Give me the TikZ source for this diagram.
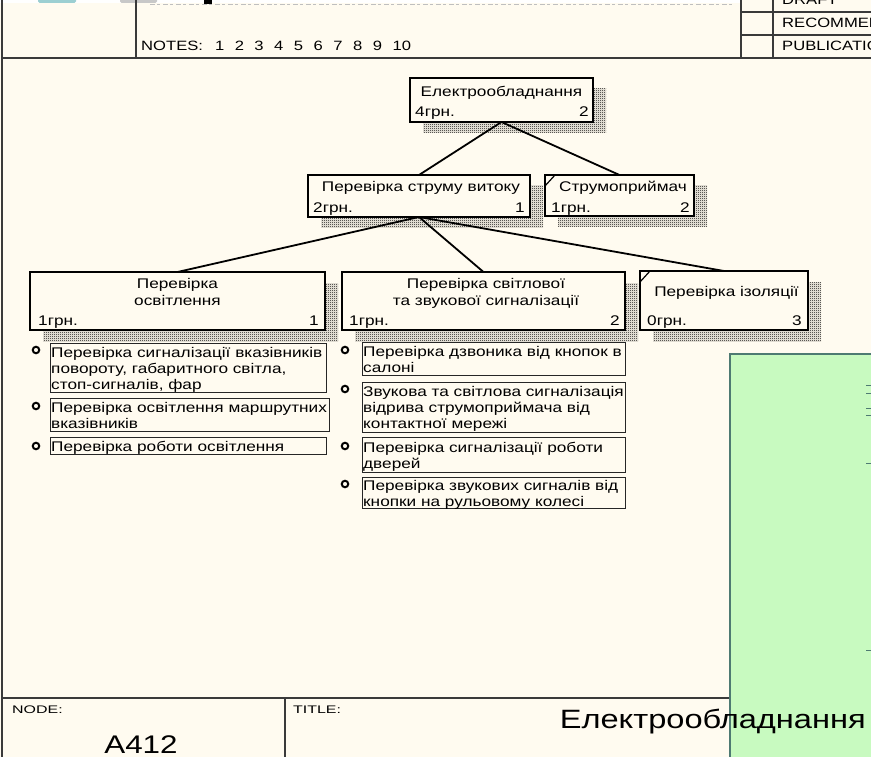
\documentclass[tikz,border=0pt]{standalone}
\usepackage{fontspec}
\setmainfont{Liberation Sans}
\newfontfamily\dfont[FakeStretch=1.23]{Liberation Sans}
\newfontfamily\sfont[FakeStretch=1.45]{Liberation Sans}
\usetikzlibrary{patterns}
\definecolor{cream}{HTML}{FFFBF0}
\definecolor{lgreen}{HTML}{C8FAC0}
\definecolor{gborder}{HTML}{4E7A72}
\definecolor{framec}{HTML}{3A3A3A}
\definecolor{iconteal}{HTML}{9CCFD2}
\definecolor{icongrey}{HTML}{C8C8C8}
\pgfdeclarepatternformonly{chk}{\pgfpointorigin}{\pgfqpoint{2pt}{2pt}}{\pgfqpoint{2pt}{2pt}}{%
  \pgfpathrectangle{\pgfpointorigin}{\pgfqpoint{1pt}{1pt}}%
  \pgfpathrectangle{\pgfqpoint{1pt}{1pt}}{\pgfqpoint{1pt}{1pt}}%
  \pgfusepath{fill}}
\pgfdeclarelayer{back}
\pgfdeclarelayer{shd}
\pgfsetlayers{back,shd,main}
\tikzset{
  box/.style={draw=black, line width=2pt, fill=cream, outer sep=0pt, inner sep=0pt, anchor=north west},
  item/.style={draw=black!85, line width=1pt, fill=cream, outer sep=0pt, inner sep=0pt, anchor=north west},
  shadefill/.style={pattern=chk, pattern color=black},
  conn/.style={line width=1.8pt, black},
  cornermark/.style={line width=1.2pt, black},
  dtxt/.style={font=\dfont\fontsize{14}{16}\selectfont, inner sep=0pt, anchor=base},
  ltxt/.style={font=\dfont\fontsize{14}{16}\selectfont, inner sep=0pt, anchor=base west},
  rtxt/.style={font=\dfont\fontsize{14}{16}\selectfont, inner sep=0pt, anchor=base east},
  htxt/.style={font=\dfont\fontsize{13.5}{15}\selectfont, inner sep=0pt, anchor=base west},
  stxt/.style={font=\sfont\fontsize{11}{13}\selectfont, inner sep=0pt, anchor=base west},
  btxt/.style={font=\dfont\fontsize{25.5}{28}\selectfont, inner sep=0pt},
  bul/.style={circle, draw=black, line width=2pt, minimum size=6.5pt, inner sep=0pt, fill=cream},
  frame/.style={draw=framec, line width=1.3pt},
}
\newcommand\shd[1]{\begin{pgfonlayer}{shd}\fill[shadefill] ([shift={(13pt,-11pt)}]#1.north west) rectangle ([shift={(13pt,-11pt)}]#1.south east);\end{pgfonlayer}}
\begin{document}
\begin{tikzpicture}[x=1pt,y=-1pt]
\useasboundingbox (0,0) rectangle (871,757);
\begin{pgfonlayer}{back}
\fill[cream] (0,0) rectangle (871,757);
\fill[white] (0,-1) rectangle (742,3);
\fill[iconteal, rounded corners=1.5pt] (38,-4) rectangle (76,3);
\fill[icongrey, rounded corners=1.5pt] (120,-4) rectangle (157,3);
\fill[black] (204,-1) rectangle (212,4);
\draw[black!25, line width=1.2pt, dash pattern=on 5pt off 2pt on 3pt off 3pt] (150,4.5) -- (732,4.5);
\end{pgfonlayer}

% header frame
\draw[framec, line width=2.5pt] (2,0) -- (2,757);
\draw[frame] (136,0) -- (136,58);
\draw[frame, line width=1.5pt] (2,58) -- (871,58);
\draw[frame] (741,0) -- (741,58);
\draw[frame] (773,0) -- (773,58);
\draw[frame] (741,12) -- (871,12);
\draw[frame] (741,35) -- (871,35);
\node[htxt] (draft) at (782,5) {DRAFT};
\node[htxt] (recom) at (782,28) {RECOMMENDED};
\node[htxt] (publ) at (782,51) {PUBLICATION};
\node[htxt] (notes) at (141,51) {NOTES:\hspace{12pt}1\hspace{10.5pt}2\hspace{10.5pt}3\hspace{10.5pt}4\hspace{10.5pt}5\hspace{10.5pt}6\hspace{10.5pt}7\hspace{10.5pt}8\hspace{10.5pt}9\hspace{10.5pt}10};

% boxes
\node[box, minimum width=183pt, minimum height=44pt] (b0) at (410,78) {};
\shd{b0}
\node[dtxt] (b0t) at (501.5,97) {Електрообладнання};
\node[ltxt] (b0c) at (415,117) {4грн.};
\node[rtxt] (b0n) at (589,117) {2};

\node[box, minimum width=222pt, minimum height=42pt] (b1) at (308,175) {};
\shd{b1}
\node[dtxt] (b1t) at (421,192) {Перевірка струму витоку};
\node[ltxt] (b1c) at (313,212) {2грн.};
\node[rtxt] (b1n) at (525,212) {1};

\node[box, minimum width=149pt, minimum height=41pt] (b2) at (545,175) {};
\shd{b2}
\draw[cornermark] ([yshift=-11pt]b2.north west) -- ([xshift=10pt]b2.north west);
\node[dtxt] (b2t) at (623,192) {Струмоприймач};
\node[ltxt] (b2c) at (551,212) {1грн.};
\node[rtxt] (b2n) at (690,212) {2};

\node[box, minimum width=295pt, minimum height=58pt] (b3) at (30,272) {};
\shd{b3}
\node[dtxt] (b3t1) at (177.5,288) {Перевірка};
\node[dtxt] (b3t2) at (177.5,305) {освітлення};
\node[ltxt] (b3c) at (38,325) {1грн.};
\node[rtxt] (b3n) at (319,325) {1};

\node[box, minimum width=283pt, minimum height=58pt] (b4) at (342,272) {};
\shd{b4}
\node[dtxt] (b4t1) at (486,288) {Перевірка світлової};
\node[dtxt] (b4t2) at (486,305) {та звукової сигналізації};
\node[ltxt] (b4c) at (349,325) {1грн.};
\node[rtxt] (b4n) at (620,325) {2};

\node[box, minimum width=168pt, minimum height=59pt] (b5) at (640,271) {};
\shd{b5}
\draw[cornermark] ([yshift=-11pt]b5.north west) -- ([xshift=10pt]b5.north west);
\node[dtxt] (b5t) at (726.5,296) {Перевірка ізоляції};
\node[ltxt] (b5c) at (647,325) {0грн.};
\node[rtxt] (b5n) at (802,325) {3};

% connectors
\draw[conn] (b0.south) -- (b1.north);
\draw[conn] (b0.south) -- (b2.north);
\draw[conn] (b1.south) -- (b3.north);
\draw[conn] (b1.south) -- (b4.north);
\draw[conn] (b1.south) -- (b5.north);

% left list
\node[item, minimum width=276pt, minimum height=49pt] (l1) at (50,343) {};
\node[bul] (l1o) at (36,350) {};
\node[ltxt] (l1a) at (51,357) {Перевірка сигналізації вказівників};
\node[ltxt] (l1b) at (51,373) {повороту, габаритного світла,};
\node[ltxt] (l1c) at (51,389) {стоп-сигналів, фар};

\node[item, minimum width=279pt, minimum height=33pt] (l2) at (50,398) {};
\node[bul] (l2o) at (36,406) {};
\node[ltxt] (l2a) at (51,412) {Перевірка освітлення маршрутних};
\node[ltxt] (l2b) at (51,428) {вказівників};

\node[item, minimum width=276pt, minimum height=17pt] (l3) at (50,437) {};
\node[bul] (l3o) at (36,446) {};
\node[ltxt] (l3a) at (51,451) {Перевірка роботи освітлення};

% middle list
\node[item, minimum width=263pt, minimum height=33pt] (m1) at (362,342) {};
\node[bul] (m1o) at (345,350) {};
\node[ltxt] (m1a) at (363,356) {Перевірка дзвоника від кнопок в};
\node[ltxt] (m1b) at (363,372) {салоні};

\node[item, minimum width=263pt, minimum height=50pt] (m2) at (362,382) {};
\node[bul] (m2o) at (345,389) {};
\node[ltxt] (m2a) at (363,396) {Звукова та світлова сигналізація};
\node[ltxt] (m2b) at (363,412) {відрива струмоприймача від};
\node[ltxt] (m2c) at (363,428) {контактної мережі};

\node[item, minimum width=263pt, minimum height=35pt] (m3) at (362,437) {};
\node[bul] (m3o) at (345,446) {};
\node[ltxt] (m3a) at (363,452) {Перевірка сигналізації роботи};
\node[ltxt] (m3b) at (363,468) {дверей};

\node[item, minimum width=263pt, minimum height=31pt] (m4) at (362,477) {};
\node[bul] (m4o) at (345,484) {};
\node[ltxt] (m4a) at (363,490) {Перевірка звукових сигналів від};
\node[ltxt] (m4b) at (363,506) {кнопки на рульовому колесі};

% footer
\draw[frame, line width=1.5pt] (2,698) -- (871,698);
\draw[frame] (285,698) -- (285,757);
\node[stxt] (nodelbl) at (12,713) {NODE:};
\node[stxt] (titlelbl) at (293,713) {TITLE:};
\node[btxt, anchor=base] (nodeid) at (141,753) {A412};

% green panel
\fill[lgreen] (729,353) rectangle (875,760);
\draw[gborder, line width=2pt] (730,760) -- (730,354) -- (875,354);
\foreach \yy in {385,393,408,415,463,650} \draw[gborder, line width=1pt] (866,\yy) -- (871,\yy);

\node[btxt, anchor=base east, font=\dfont\fontsize{26.5}{30}\selectfont] (title) at (866,728) {Електрообладнання};
\end{tikzpicture}
\end{document}
